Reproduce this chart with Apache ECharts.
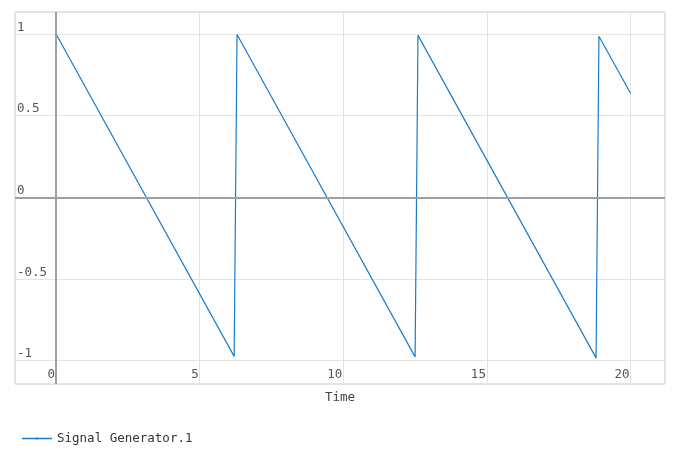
<!DOCTYPE html>
<html>
<head>
<meta charset="utf-8">
<script src="https://cdn.jsdelivr.net/npm/echarts@6/dist/echarts.min.js"></script>
<style>
html,body{margin:0;padding:0;background:#fff;}
#chart{width:679px;height:455px;}
</style>
</head>
<body>
<div id="chart"></div>
<script>
// Data (breakpoints of the line)
const seriesName = 'Signal Generator.1';
const times  = [0, 6.2, 6.3, 12.5, 12.6, 18.8, 18.9, 20];
const values = [1, -0.974, 0.997, -0.977, 0.992, -0.983, 0.986, 0.637];
const xAxisTitle = 'Time';

const FONT = '"DejaVu Sans Mono", monospace';
const LINE_COLOR = '#1a7bcb';
const chart = echarts.init(document.getElementById('chart'));
const data = times.map((t, i) => [t, values[i]]);

chart.setOption({
  animation: false,
  backgroundColor: '#fff',
  grid: { left: 15, right: 14, top: 12, bottom: 71, show: true, borderColor: '#c8c8c8', borderWidth: 1, containLabel: false },
  xAxis: {
    type: 'value', min: -1.43, max: 21.2,
    name: xAxisTitle, nameLocation: 'middle', nameGap: 7,
    nameTextStyle: { fontFamily: FONT, fontSize: 12.5, color: '#444' },
    axisLine: { show: false }, axisTick: { show: false },
    axisLabel: { inside: true, showMinLabel: false, showMaxLabel: false, align: 'right', verticalAlign: 'bottom', margin: 3, padding: [0, 1, 0, 0],
      fontFamily: FONT, fontSize: 12.5, color: '#555' },
    splitLine: { show: true, lineStyle: { color: '#e3e3e3', width: 1 } }
  },
  yAxis: {
    type: 'value', min: -1.143, max: 1.135,
    axisLine: { show: false }, axisTick: { show: false },
    axisLabel: { inside: true, showMinLabel: false, showMaxLabel: false, align: 'left', verticalAlign: 'bottom', margin: 2, padding: [0, 0, 0, 0],
      fontFamily: FONT, fontSize: 12.5, color: '#555' },
    splitLine: { show: true, lineStyle: { color: '#e3e3e3', width: 1 } }
  },
  legend: {
    left: 17, top: 427, orient: 'horizontal',
    itemWidth: 30, itemHeight: 6, itemGap: 10,
    icon: 'path://M0,2.3h30v1.4h-30z M14,2h2v2h-2z',
    itemStyle: { color: LINE_COLOR, borderWidth: 0 },
    textStyle: { fontFamily: FONT, fontSize: 12.5, color: '#333' },
    data: [seriesName]
  },
  series: [{
    name: seriesName, type: 'line', data: data,
    showSymbol: false, symbol: 'circle',
    lineStyle: { color: LINE_COLOR, width: 1.2 },
    itemStyle: { color: LINE_COLOR },
    markLine: {
      silent: true, symbol: 'none', label: { show: false },
      lineStyle: { color: '#a0a0a0', width: 2, type: 'solid' },
      data: [{ xAxis: 0 }, { yAxis: 0 }],
      animation: false
    },
    z: 3
  }]
});
</script>
</body>
</html>
